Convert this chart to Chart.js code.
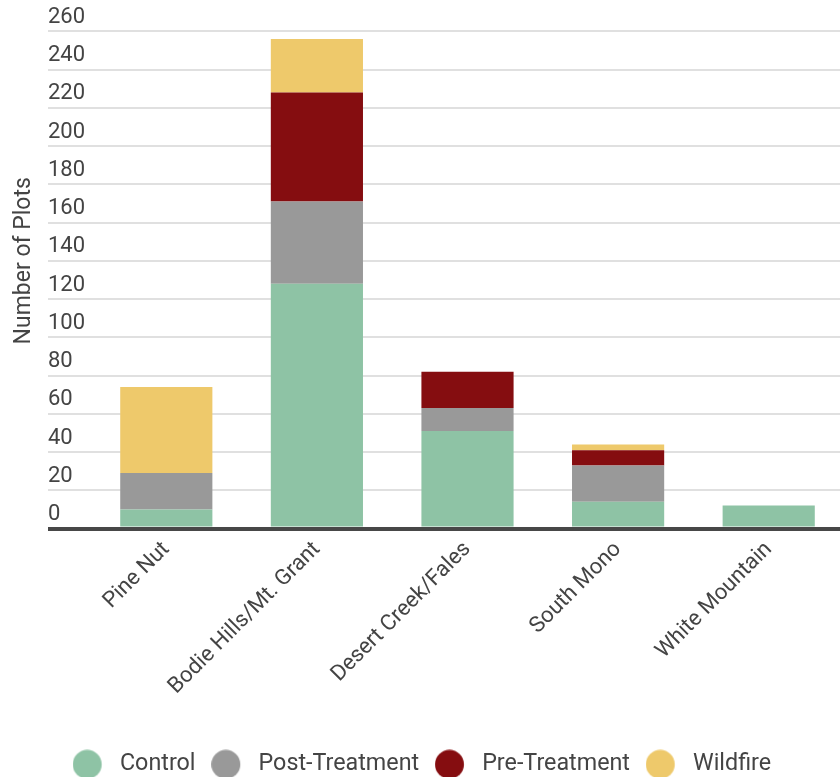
<!DOCTYPE html>
<html>
<head>
<meta charset="utf-8">
<script src="https://cdn.jsdelivr.net/npm/chart.js@4.4.1/dist/chart.umd.min.js"></script>
<style>
  html, body { margin: 0; padding: 0; background: #fff; overflow: hidden; width: 840px; height: 777px; }
  #wrap { position: absolute; left: 0; top: -7px; width: 844px; height: 793px; }
</style>
</head>
<body>
<div id="wrap"><canvas id="chart"></canvas></div>
<script>
// Plot counts per region, split by plot type
const regions = ['Pine Nut', 'Bodie Hills/Mt. Grant', 'Desert Creek/Fales', 'South Mono', 'White Mountain'];
const control = [10, 128, 51, 14, 12];
const postTreatment = [19, 43, 12, 19, 0];
const preTreatment = [0, 57, 19, 8, 0];
const wildfire = [45, 28, 0, 3, 0];

const seriesNames = ['Control', 'Post-Treatment', 'Pre-Treatment', 'Wildfire'];
const seriesColors = ['#8ec3a5', '#999999', '#850d10', '#eec96b'];

const TEXT = '#444444';
const FONT = 'Roboto, "Noto Sans", sans-serif';

// legend swatch: a round dot sitting at the left of its box
function dot(color) {
  const c = document.createElement('canvas');
  c.width = 36; c.height = 30;
  const g = c.getContext('2d');
  g.fillStyle = color;
  g.beginPath();
  g.arc(14.6, 15, 14.5, 0, Math.PI * 2);
  g.fill();
  return c;
}
const dots = seriesColors.map(dot);

const values = [control, postTreatment, preTreatment, wildfire];

new Chart(document.getElementById('chart'), {
  type: 'bar',
  data: {
    labels: regions,
    datasets: values.map((v, i) => ({
      label: seriesNames[i],
      data: v,
      backgroundColor: seriesColors[i],
      borderWidth: 0,
      categoryPercentage: 1,
      barPercentage: 0.612
    }))
  },
  options: {
    responsive: true,
    maintainAspectRatio: false,
    animation: false,
    layout: { padding: { top: 0, right: 0, bottom: 0, left: 0 } },
    plugins: {
      tooltip: { enabled: false },
      legend: {
        position: 'bottom',
        labels: {
          usePointStyle: true,
          pointStyleWidth: 35.4,
          boxHeight: 20,
          padding: 16,
          color: TEXT,
          font: { family: FONT, size: 23.3 },
          generateLabels(chart) {
            const items = Chart.defaults.plugins.legend.labels.generateLabels(chart);
            items.forEach((it, i) => { it.pointStyle = dots[i]; });
            return items;
          }
        }
      }
    },
    scales: {
      x: {
        stacked: true,
        grid: { display: false },
        border: { display: false },
        ticks: {
          autoSkip: false,
          minRotation: 45,
          maxRotation: 45,
          padding: 0,
          color: TEXT,
          font: { family: FONT, size: 22 }
        },
        // extra room between the rotated region names and the legend
        afterFit(scale) { scale.height += 37; }
      },
      y: {
        stacked: true,
        min: 0,
        max: 280,
        border: { display: false },
        grid: {
          drawTicks: true,
          tickLength: 43,
          color: ctx => (ctx.tick && ctx.tick.value === 0 ? '#474747' : '#e0e0e0'),
          lineWidth: ctx => (ctx.tick && ctx.tick.value === 0 ? 4 : 2)
        },
        ticks: {
          stepSize: 20,
          mirror: true,
          padding: -43,
          labelOffset: -14,
          color: TEXT,
          font: { family: FONT, size: 22 }
        },
        title: {
          display: true,
          text: 'Number of Plots',
          color: TEXT,
          font: { family: FONT, size: 23 },
          padding: { top: 10, bottom: 0 }
        },
        afterFit(scale) { scale.width = 91; }
      }
    }
  }
});
</script>
</body>
</html>
